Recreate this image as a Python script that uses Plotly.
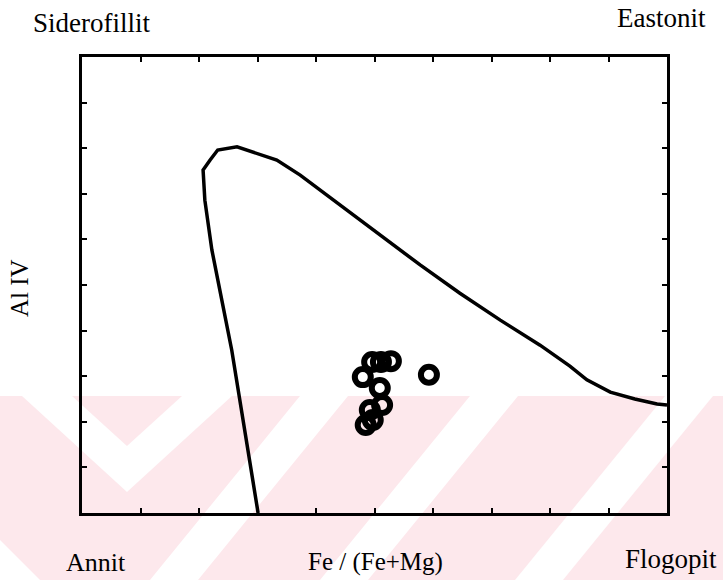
import plotly.graph_objects as go

# Biotite classification field (Al IV vs Fe/(Fe+Mg))
field_fe = [0.699, 0.716, 0.730, 0.744, 0.761, 0.778, 0.790, 0.793, 0.781, 0.768,
            0.735, 0.701, 0.667, 0.627, 0.559, 0.491, 0.422, 0.354, 0.285, 0.217,
            0.166, 0.137, 0.097, 0.055, 0.017, 0.0]
field_al = [2.000, 2.138, 2.248, 2.357, 2.467, 2.577, 2.686, 2.752, 2.774, 2.796,
            2.803, 2.789, 2.774, 2.741, 2.675, 2.610, 2.544, 2.482, 2.423, 2.368,
            2.322, 2.292, 2.265, 2.250, 2.239, 2.237]

# Biotite analyses
sample_fe = [0.504, 0.489, 0.472, 0.520, 0.407, 0.491, 0.487, 0.508, 0.503, 0.515]
sample_al = [2.331, 2.331, 2.333, 2.298, 2.303, 2.274, 2.237, 2.226, 2.204, 2.193]

# End-member corner labels
corner_labels = ["Siderofillit", "Eastonit", "Annit", "Flogopit"]
x_title = "Fe / (Fe+Mg)"
y_title = "Al IV"

W, H = 723, 580
L, R, T, B = 82, 667, 57, 513


def px(x):
    return (x - L) / (R - L)


def py(y):
    return (B - y) / (B - T)


fig = go.Figure()

fig.add_trace(go.Scatter(
    x=field_fe, y=field_al, mode="lines",
    line=dict(color="black", width=3.5), showlegend=False))

fig.add_trace(go.Scatter(
    x=sample_fe, y=sample_al, mode="markers",
    marker=dict(symbol="circle-open", size=16, color="black",
                line=dict(color="black", width=6)),
    showlegend=False))

# pale background band with white diagonal bars
shapes = []


def poly(points, color):
    d = "M " + " L ".join(f"{px(a):.4f},{py(b):.4f}" for a, b in points) + " Z"
    return dict(type="path", xref="paper", yref="paper", path=d,
                fillcolor=color, line=dict(width=0), layer="below")


pink = "#fde8ec"
shapes.append(poly([(0, 396), (W, 396), (W, H), (0, H)], pink))
shapes.append(poly([(22, 396), (72, 396), (127, 446), (182, 396), (232, 396),
                    (127, 492)], "white"))
for x0 in (150, 320, 515):
    shapes.append(poly([(x0, H), (x0 + 48, H), (x0 + 48 + 150, 396),
                        (x0 + 150, 396)], "white"))
shapes.append(poly([(0, 540), (0, H), (40, H)], "white"))

font = dict(family="Liberation Serif, Times New Roman, serif", color="black")
annotations = [
    dict(text=corner_labels[0], x=px(31), y=py(23), xanchor="left", yanchor="middle",
         font=dict(size=27, **font)),
    dict(text=corner_labels[1], x=px(708), y=py(18), xanchor="right", yanchor="middle",
         font=dict(size=27, **font)),
    dict(text=corner_labels[2], x=px(64), y=py(562), xanchor="left", yanchor="middle",
         font=dict(size=26, **font)),
    dict(text=corner_labels[3], x=px(719), y=py(559), xanchor="right", yanchor="middle",
         font=dict(size=27, **font)),
    dict(text=x_title, x=px(375), y=py(562), xanchor="center", yanchor="middle",
         font=dict(size=25, **font)),
    dict(text=y_title, x=px(19), y=py(288), xanchor="center", yanchor="middle",
         textangle=-90, font=dict(size=25, **font)),
]
for a in annotations:
    a.update(xref="paper", yref="paper", showarrow=False)

axis = dict(showline=True, linecolor="black", linewidth=3, mirror="ticks",
            ticks="inside", ticklen=5, tickwidth=2, tickcolor="black",
            showticklabels=False, showgrid=False, zeroline=False, dtick=0.1)

fig.update_layout(
    width=W, height=H,
    margin=dict(l=L, r=W - R, t=T, b=H - B),
    paper_bgcolor="white", plot_bgcolor="rgba(0,0,0,0)",
    xaxis=dict(range=[1, 0], tick0=0, **axis),
    yaxis=dict(range=[2, 3], tick0=2, **axis),
    shapes=shapes, annotations=annotations,
)

fig.write_html("out.html")
